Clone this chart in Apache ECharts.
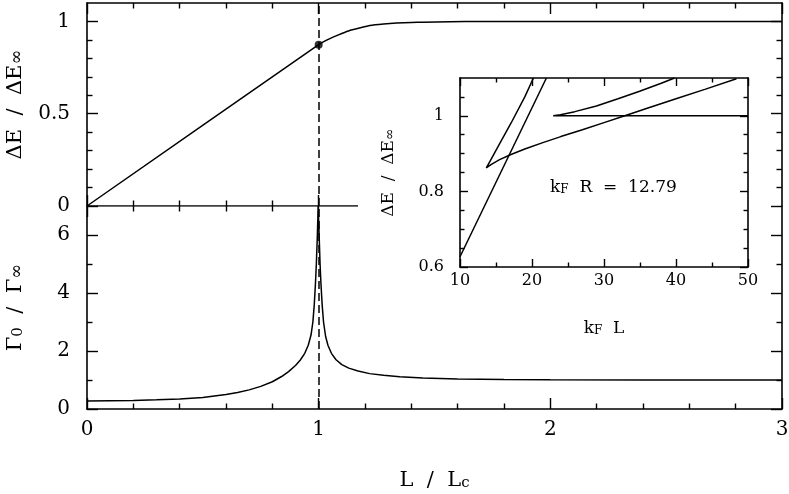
<!DOCTYPE html>
<html>
<head>
<meta charset="utf-8">
<script src="https://cdn.jsdelivr.net/npm/echarts@6/dist/echarts.min.js"></script>
<style>
html, body { margin: 0; padding: 0; background: #fff; }
#main { width: 789px; height: 494px; }
</style>
</head>
<body>
<div id="main"></div>
<script>
// top panel: dE / dE_inf against L / Lc
const topX = [0, 1.0, 1.03, 1.062, 1.1, 1.134, 1.18, 1.221, 1.28, 1.336, 1.4, 1.451, 1.567, 1.7, 2.0, 3.0];
const topY = [0, 0.874, 0.896, 0.915, 0.935, 0.951, 0.966, 0.978, 0.986, 0.991, 0.994, 0.996, 0.999, 1.0, 1.0, 1.0];
const dotX = [1.0];
const dotY = [0.874];
const dividerX = [0, 1.17];
const dividerY = [0, 0];

// bottom panel: Gamma0 / Gamma_inf
const botX = [0, 0.2, 0.3, 0.4, 0.5, 0.6, 0.65, 0.7, 0.75, 0.8, 0.84, 0.87, 0.9, 0.92, 0.94, 0.955, 0.967,
              0.975, 0.981, 0.986, 0.99, 0.994, 0.998, 1.002, 1.006, 1.01, 1.015, 1.021, 1.03, 1.04, 1.055,
              1.075, 1.1, 1.13, 1.17, 1.22, 1.28, 1.35, 1.45, 1.6, 1.8, 2.0, 2.4, 3.0];
const botY = [0.28, 0.295, 0.315, 0.345, 0.40, 0.50, 0.57, 0.66, 0.78, 0.94, 1.12, 1.29, 1.50, 1.68, 1.92, 2.2, 2.55,
              3.0, 3.6, 4.3, 5.0, 5.9, 7.0, 6.0, 5.0, 4.3, 3.6, 3.0, 2.5, 2.2, 1.92,
              1.70, 1.53, 1.41, 1.31, 1.22, 1.16, 1.11, 1.065, 1.035, 1.015, 1.005, 1.0, 1.0];

// inset: dE / dE_inf against kF L
const insetAX = [10, 22.0];
const insetAY = [0.627, 1.1];
const insetBX = [20.2, 19.0, 17.1, 15.3, 14.2, 13.65, 14.3, 15.5, 17, 19, 21.5, 24, 27, 30, 33, 36, 40, 44, 48.4];
const insetBY = [1.1, 1.05, 0.981, 0.919, 0.881, 0.862, 0.871, 0.884, 0.897, 0.912, 0.929, 0.945, 0.963, 0.982,
                 1.001, 1.020, 1.045, 1.070, 1.098];
const insetCX = [39.8, 37.95, 34.95, 31.95, 28.95, 25.95, 23.95, 22.95, 50];
const insetCY = [1.1, 1.086, 1.065, 1.045, 1.026, 1.011, 1.003, 1.0, 1.0];

// ticks
const xMajor = [0, 1, 2, 3];
const xMinor = [0.2, 0.4, 0.6, 0.8, 1.2, 1.4, 1.6, 1.8, 2.2, 2.4, 2.6, 2.8];
const dividerMajor = [0, 1];
const dividerMinor = [0.2, 0.4, 0.6, 0.8];
const yTopMajor = [0, 0.5, 1];
const yTopMinor = [0.1, 0.2, 0.3, 0.4, 0.6, 0.7, 0.8, 0.9];
const yBotMajor = [0, 2, 4, 6];
const yBotMinor = [1, 3, 5];
const inXMajor = [10, 20, 30, 40, 50];
const inXMinor = [15, 25, 35, 45];
const inYMajor = [0.6, 0.8, 1];
const inYMinor = [0.65, 0.7, 0.75, 0.85, 0.9, 0.95, 1.05];

const FONT = 'DejaVu Serif';

function pairs(xs, ys) {
    return xs.map((x, i) => [x, ys[i]]);
}

function subRich(size) {
    return {
        n: { fontFamily: FONT, fontSize: size, lineHeight: size, verticalAlign: 'top', color: '#000' },
        s: { fontFamily: FONT, fontSize: Math.round(size * 0.7), lineHeight: Math.round(size * 0.7),
             padding: [Math.round(size * 0.5), 0, 0, 0], verticalAlign: 'bottom', color: '#000' },
        i: { fontFamily: FONT, fontSize: Math.round(size * 0.85), lineHeight: Math.round(size * 0.85),
             padding: [Math.round(size * 0.4), 0, 0, 0], verticalAlign: 'bottom', color: '#000' }
    };
}

function axis(gridIndex, position, min, max, ticks, len, opt) {
    opt = opt || {};
    let a = {
        type: 'value',
        gridIndex: gridIndex,
        position: position,
        min: min,
        max: max,
        axisLine: { show: !!opt.line, onZero: false, lineStyle: { color: '#000', width: 1.6 } },
        axisTick: { show: true, inside: true, length: len, customValues: ticks, lineStyle: { color: '#000', width: 1.4 } },
        axisLabel: { show: false },
        splitLine: { show: false }
    };
    if (opt.labels) {
        a.axisLabel = {
            show: true,
            customValues: opt.labels,
            color: '#000',
            fontFamily: FONT,
            fontSize: opt.fontSize || 20,
            margin: opt.margin,
            formatter: v => String(v)
        };
    }
    if (opt.name) {
        let size = opt.nameSize || 21;
        a.name = opt.name;
        a.nameLocation = 'middle';
        a.nameGap = opt.nameGap;
        a.nameRotate = opt.nameRotate || 0;
        a.nameTextStyle = { color: '#000', fontFamily: FONT, fontSize: size, rich: subRich(size) };
    }
    return a;
}

const dEname = '{n|ΔE  /  ΔE}{i|∞}';

const xAxes = [
    axis(0, 'top', 0, 3, xMajor, 11, { line: true }),                 // 0
    axis(0, 'top', 0, 3, xMinor, 5.5),                                 // 1
    axis(0, 'bottom', 0, 3, dividerMajor, 11),                         // 2
    axis(0, 'bottom', 0, 3, dividerMinor, 5.5),                        // 3
    axis(1, 'top', 0, 3, dividerMajor, 11),                            // 4
    axis(1, 'top', 0, 3, dividerMinor, 5.5),                           // 5
    axis(1, 'bottom', 0, 3, xMajor, 11, { line: true, labels: xMajor, margin: 11,
        name: '{n|L  /  L}{s|c}', nameGap: 61 }),                      // 6
    axis(1, 'bottom', 0, 3, xMinor, 5.5),                              // 7
    axis(2, 'bottom', 10, 50, inXMajor, 8, { line: true, labels: inXMajor, margin: 6, fontSize: 16,
        name: '{n|k}{s|F}{n|  L}', nameGap: 53, nameSize: 17 }),       // 8
    axis(2, 'bottom', 10, 50, inXMinor, 4.5),                          // 9
    axis(2, 'top', 10, 50, inXMajor, 8, { line: true }),               // 10
    axis(2, 'top', 10, 50, inXMinor, 4.5)                              // 11
];

const yAxes = [
    axis(0, 'left', 0, 1.1, yTopMajor, 11, { line: true, labels: yTopMajor, margin: 17,
        name: dEname, nameGap: 61, nameRotate: 90 }),                  // 0
    axis(0, 'left', 0, 1.1, yTopMinor, 5.5),                           // 1
    axis(0, 'right', 0, 1.1, yTopMajor, 11, { line: true }),           // 2
    axis(0, 'right', 0, 1.1, yTopMinor, 5.5),                          // 3
    axis(1, 'left', 0, 7, yBotMajor, 11, { line: true, labels: yBotMajor, margin: 17,
        name: '{n|Γ}{s|0}{n|  /  Γ}{i|∞}', nameGap: 61, nameRotate: 90 }), // 4
    axis(1, 'left', 0, 7, yBotMinor, 5.5),                             // 5
    axis(1, 'right', 0, 7, yBotMajor, 11, { line: true }),             // 6
    axis(1, 'right', 0, 7, yBotMinor, 5.5),                            // 7
    axis(2, 'left', 0.6, 1.1, inYMajor, 8, { line: true, labels: inYMajor, margin: 16, fontSize: 16,
        name: dEname, nameGap: 63, nameRotate: 90, nameSize: 17 }),    // 8
    axis(2, 'left', 0.6, 1.1, inYMinor, 4.5),                          // 9
    axis(2, 'right', 0.6, 1.1, inYMajor, 8, { line: true }),           // 10
    axis(2, 'right', 0.6, 1.1, inYMinor, 4.5)                          // 11
];

const lineStyle = { color: '#000', width: 1.5 };
const dashed = {
    silent: true,
    symbol: ['none', 'none'],
    label: { show: false },
    lineStyle: { color: '#000', width: 1.5, type: [8, 4] },
    data: [{ xAxis: 1 }]
};

const option = {
    backgroundColor: '#fff',
    animation: false,
    grid: [
        { left: 87, top: 3, width: 695, height: 203, outerBoundsMode: 'none' },
        { left: 87, top: 206, width: 695, height: 203, outerBoundsMode: 'none' },
        { left: 460, top: 78, width: 288, height: 189, outerBoundsMode: 'none' }
    ],
    xAxis: xAxes,
    yAxis: yAxes,
    graphic: [
        {
            type: 'text',
            left: 550,
            top: 175,
            style: {
                text: '{n|k}{s|F}{n|  R  =  12.79}',
                rich: subRich(17)
            }
        }
    ],
    series: [
        {
            type: 'line', xAxisIndex: 0, yAxisIndex: 0,
            data: pairs(topX, topY), showSymbol: false, smooth: 0.2,
            lineStyle: lineStyle, markLine: dashed
        },
        {
            type: 'line', xAxisIndex: 0, yAxisIndex: 0,
            data: pairs(dividerX, dividerY), showSymbol: false,
            lineStyle: { color: '#000', width: 1.6 }
        },
        {
            type: 'scatter', xAxisIndex: 0, yAxisIndex: 0,
            data: pairs(dotX, dotY), symbolSize: 8,
            itemStyle: { color: '#000' }
        },
        {
            type: 'line', xAxisIndex: 6, yAxisIndex: 4,
            data: pairs(botX, botY), showSymbol: false,
            lineStyle: lineStyle, markLine: dashed
        },
        {
            type: 'line', xAxisIndex: 8, yAxisIndex: 8,
            data: pairs(insetAX, insetAY), showSymbol: false, lineStyle: lineStyle
        },
        {
            type: 'line', xAxisIndex: 8, yAxisIndex: 8,
            data: pairs(insetBX, insetBY), showSymbol: false, lineStyle: lineStyle
        },
        {
            type: 'line', xAxisIndex: 8, yAxisIndex: 8,
            data: pairs(insetCX, insetCY), showSymbol: false, lineStyle: lineStyle
        }
    ]
};

var myChart = echarts.init(document.getElementById('main'));
myChart.setOption(option);
</script>
</body>
</html>
